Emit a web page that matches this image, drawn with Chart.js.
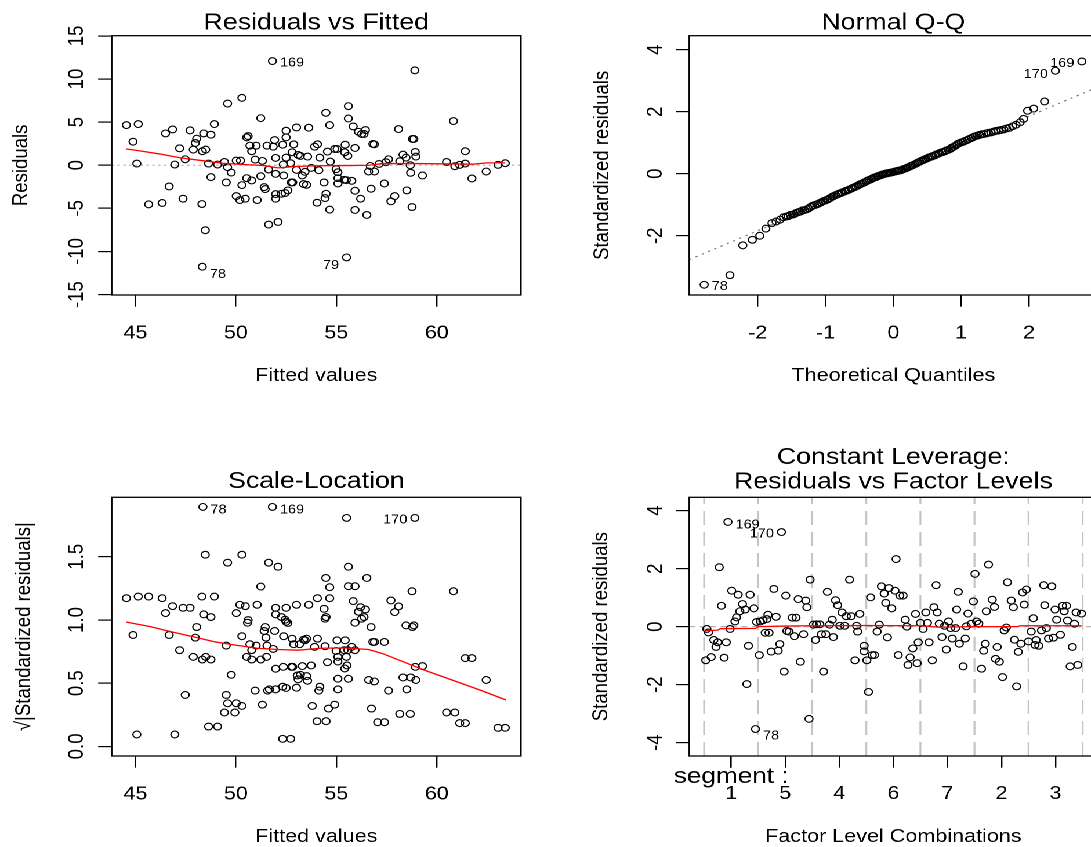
<!DOCTYPE html>
<html>
<head>
<meta charset="utf-8">
<title>lm diagnostics</title>
<script src="https://cdn.jsdelivr.net/npm/chart.js@4.4.1/dist/chart.umd.min.js"></script>
<style>
  html, body { margin:0; padding:0; width:1091px; height:847px; overflow:hidden; background:#ffffff; }
  #stage { position:absolute; left:0; top:0; width:940.5px; height:847px; transform:scaleX(1.16); transform-origin:0 0; }
  #stage canvas { position:absolute; }
</style>
</head>
<body>
<div id="stage">
  <canvas id="c1"></canvas>
  <canvas id="c2"></canvas>
  <canvas id="c3"></canvas>
  <canvas id="c4"></canvas>
</div>
<script>
// ---------------- DATA ----------------
// Panel 1: Residuals vs Fitted (first three points are the labelled ones)
const rvfX = [51.82,48.33,55.51,
  44.55,44.88,45.14,45.07,45.66,46.33,46.5,46.85,46.68,46.96,47.2,47.37,47.48,47.72,47.88,47.98,48.05,48.31,
  48.4,48.33,48.5,48.48,48.64,48.76,48.76,48.93,49.09,49.43,49.52,49.59,49.59,49.77,50.02,50.02,50.2,50.23,
  50.3,50.3,50.47,50.54,50.54,50.61,50.7,50.79,50.79,51.01,50.96,51.06,51.24,51.24,51.32,51.41,51.46,51.55,
  51.63,51.63,51.86,51.93,51.98,51.98,51.98,51.98,52.1,52.27,52.33,52.36,52.38,52.45,52.5,52.5,52.5,52.59,
  52.73,52.76,52.83,52.88,52.8,53.02,53.02,53.1,53.21,53.31,53.37,53.44,53.52,53.57,53.63,53.75,53.92,54.04,
  54.06,54.13,54.18,54.39,54.44,54.49,54.48,54.56,54.67,54.67,54.7,54.92,54.99,55.04,55.08,55.08,55.08,55.39,
  55.44,55.42,55.5,55.57,55.6,55.6,55.77,55.84,55.93,55.93,55.93,56.1,56.21,56.26,56.38,56.45,56.52,56.61,
  56.69,56.73,56.82,56.89,56.9,57.13,57.39,57.47,57.6,57.72,57.91,58.1,58.16,58.32,58.47,58.51,58.68,58.7,
  58.77,58.79,58.86,58.91,58.93,58.96,59.29,60.49,60.83,60.9,61.14,61.42,61.42,61.75,62.46,63.05,63.41];
const rvfY = [12.08,-11.77,-10.69,
  4.65,2.73,4.77,0.19,-4.54,-4.38,3.69,4.15,-2.46,0.08,1.96,-3.88,0.69,4.04,1.81,2.58,3.08,-4.5,
  3.69,1.62,1.81,-7.54,0.19,3.54,-1.38,4.77,0.08,0.38,-2.0,7.15,-0.23,-0.85,0.54,-3.58,-4.04,0.54,
  7.81,-2.31,-3.88,-1.5,3.23,3.38,2.27,1.62,-1.77,2.27,0.65,-4.04,5.46,-1.27,0.5,-2.54,-2.77,2.27,
  -6.88,-0.5,2.15,2.92,0.85,-3.35,-3.88,-1.0,-6.58,-3.31,2.38,0.08,-1.19,-3.23,4.0,3.23,0.88,-2.92,
  0.23,-2.0,-2.0,2.42,1.5,4.38,-0.54,1.19,1.08,-1.19,-2.19,-0.77,-2.27,1.0,4.35,-0.31,2.15,-4.35,
  2.42,-0.58,0.88,-2.0,-3.81,-3.31,6.08,1.58,-5.15,4.65,0.42,1.88,-0.46,1.88,-0.81,-1.5,-2.12,-1.69,
  2.38,1.5,-1.73,1.08,6.85,5.42,-1.81,4.5,2.0,-2.96,-5.19,3.88,-3.88,3.62,3.62,4.08,-5.77,-0.73,
  -0.08,-2.73,2.46,2.42,-0.73,0.15,-2.12,0.35,0.69,-4.19,-3.58,4.19,0.46,1.23,0.88,-2.92,0.0,-0.88,
  -4.85,3.04,3.04,11.0,1.54,1.0,-1.19,0.38,5.12,-0.12,0.04,1.62,0.19,-1.54,-0.73,0.04,0.23];
const rvfIds = ['169','78','79'];
const rvfLoX = [44.55,45.14,46.2,47.25,48.3,49.33,50.37,51.41,52.1,52.97,53.83,54.87,55.57,56.61,57.3,59.03,60.76,61.8,62.5,63.41];
const rvfLoY = [1.88,1.69,1.31,0.85,0.54,0.23,0.08,-0.04,-0.31,-0.15,-0.08,-0.04,-0.04,0.0,0.19,0.19,0.15,0.12,0.27,0.27];
const rvfXTicks = [45,50,55,60];
const rvfYTicks = [-15,-10,-5,0,5,10,15];
const rvfXRange = [43.82,64.19];
const rvfYRange = [-15.05,15.02];

// Panel 2: Normal Q-Q (first three are labelled)
const qqX = [-2.79,2.39,2.78,
  -2.41,-2.22,-2.08,-1.97,-1.88,-1.79,-1.73,-1.67,-1.62,
  -1.58,-1.55,-1.52,-1.49,-1.46,-1.43,-1.40,-1.37,-1.34,-1.31,-1.28,-1.25,-1.22,-1.19,-1.16,-1.13,-1.10,-1.07,
  -1.04,-1.01,-0.98,-0.96,-0.93,-0.90,-0.88,-0.85,-0.82,-0.80,-0.77,-0.75,-0.72,-0.70,-0.67,-0.65,-0.62,-0.60,
  -0.57,-0.55,-0.52,-0.50,-0.48,-0.45,-0.43,-0.40,-0.38,-0.36,-0.33,-0.31,-0.29,-0.26,-0.24,-0.22,-0.19,-0.17,
  -0.15,-0.12,-0.10,-0.08,-0.05,-0.03,-0.01,0.02,0.04,0.06,0.08,0.11,0.13,0.15,0.18,0.20,0.22,0.25,0.27,0.29,
  0.32,0.34,0.36,0.39,0.41,0.44,0.46,0.48,0.51,0.53,0.56,0.58,0.61,0.63,0.66,0.68,0.71,0.73,0.76,0.78,0.81,
  0.84,0.86,0.89,0.92,0.94,0.97,1.00,1.03,1.06,1.09,1.12,1.15,1.18,1.21,1.24,1.27,1.30,1.33,1.37,1.40,1.44,
  1.48,1.51,1.55,1.59,1.63,1.67,1.71,1.76,1.81,1.87,1.92,1.98,2.07,2.23];
const qqY = [-3.58,3.32,3.62,
  -3.27,-2.31,-2.13,-2.00,-1.77,-1.59,-1.54,-1.48,-1.40,
  -1.38,-1.37,-1.33,-1.32,-1.30,-1.26,-1.24,-1.22,-1.18,-1.17,-1.15,-1.12,-1.07,-1.03,-1.01,-0.99,-0.96,-0.93,
  -0.89,-0.87,-0.84,-0.82,-0.78,-0.74,-0.72,-0.69,-0.66,-0.64,-0.62,-0.60,-0.57,-0.55,-0.53,-0.51,-0.48,-0.46,
  -0.43,-0.41,-0.38,-0.35,-0.33,-0.30,-0.28,-0.25,-0.22,-0.20,-0.18,-0.15,-0.13,-0.11,-0.09,-0.07,-0.05,-0.03,
  -0.02,0.00,0.01,0.02,0.03,0.04,0.05,0.07,0.08,0.09,0.10,0.11,0.13,0.15,0.17,0.19,0.21,0.24,0.26,0.28,
  0.31,0.33,0.36,0.39,0.41,0.44,0.46,0.48,0.51,0.53,0.55,0.57,0.59,0.62,0.64,0.66,0.69,0.70,0.72,0.75,0.77,
  0.80,0.84,0.87,0.91,0.95,0.98,1.01,1.03,1.06,1.09,1.12,1.15,1.18,1.21,1.23,1.25,1.27,1.28,1.30,1.32,1.33,
  1.36,1.38,1.39,1.41,1.43,1.46,1.48,1.53,1.58,1.66,1.77,2.03,2.10,2.33];
const qqIds = ['78','170','169'];
const qqLineX = [-3.01,3.01];
const qqLineY = [-2.77,2.79];
const qqXTicks = [-2,-1,0,1,2];
const qqYTicks = [-2,0,2,4];
const qqXRange = [-3.01,3.01];
const qqYRange = [-3.91,4.45];

// Panel 3: Scale-Location (first three are labelled)
const slX = [48.36,51.82,58.91,
  44.55,44.88,45.14,45.07,45.66,46.33,46.5,46.85,46.68,46.96,47.2,47.37,47.48,47.72,47.88,47.98,48.05,48.31,
  48.4,48.33,48.5,48.48,48.64,48.76,48.76,48.93,49.09,49.43,49.52,49.59,49.59,49.52,49.77,50.02,50.02,49.95,
  50.2,50.3,50.3,50.3,50.47,50.54,50.58,50.61,50.7,50.79,50.79,51.01,50.96,51.06,51.24,51.24,51.32,51.41,
  51.46,51.5,51.53,51.55,51.63,51.58,51.67,51.86,51.93,51.98,51.98,51.98,51.98,52.1,52.27,52.33,52.36,52.33,
  52.38,52.45,52.5,52.5,52.5,52.59,52.73,52.76,52.83,52.88,52.8,53.02,53.02,53.06,53.1,53.21,53.17,53.31,
  53.37,53.44,53.52,53.52,53.57,53.63,53.75,53.8,53.92,54.04,54.06,54.06,54.13,54.18,54.39,54.44,54.49,54.48,
  54.44,54.56,54.49,54.67,54.67,54.61,54.92,54.99,55.04,55.08,55.08,55.08,55.08,55.39,55.44,55.42,55.51,55.5,
  55.57,55.6,55.6,55.6,55.53,55.77,55.84,55.93,55.93,55.93,56.1,56.21,56.26,56.38,56.45,56.52,56.61,56.73,
  56.75,56.82,56.89,56.9,57.06,57.39,57.4,57.6,57.72,57.91,58.1,58.16,58.32,58.47,58.51,58.68,58.7,58.77,
  58.79,58.86,58.93,58.96,59.29,60.49,60.83,60.9,61.14,61.42,61.42,61.75,62.46,63.05,63.41];
const slY = [1.894,1.894,1.807,
  1.172,0.881,1.185,0.094,1.185,1.172,1.054,1.109,0.881,0.094,0.761,1.096,0.407,1.096,0.708,0.86,0.944,1.185,
  1.044,0.687,0.708,1.516,0.157,1.023,0.687,1.185,0.157,0.268,0.797,1.453,0.341,0.407,0.566,1.054,0.341,0.268,
  1.12,1.516,0.32,0.871,1.109,0.708,0.978,0.999,0.808,0.761,0.687,0.797,0.441,1.12,1.264,0.687,0.33,0.913,
  0.944,0.86,0.708,0.797,1.453,0.441,0.451,0.771,0.913,1.044,0.614,0.451,1.096,1.421,1.023,0.472,0.629,0.06,
  0.871,1.002,1.096,0.986,0.462,0.976,0.06,0.629,0.629,0.808,0.852,1.12,0.464,0.561,0.53,0.566,0.808,0.635,
  0.844,0.839,0.556,0.852,0.519,1.12,0.64,0.32,0.787,0.199,0.852,1.172,0.441,0.472,1.088,1.01,1.023,1.332,
  0.792,0.666,0.199,1.172,1.259,0.299,0.33,0.755,0.839,0.708,0.671,0.535,0.451,0.761,0.839,0.616,1.807,0.708,
  0.761,1.421,1.267,0.535,0.64,0.787,1.149,1.267,0.761,0.978,1.065,1.101,1.01,1.023,1.083,1.332,0.525,0.944,
  0.299,0.826,0.514,0.826,0.191,0.826,0.191,0.441,1.154,1.062,1.107,0.257,0.545,0.957,0.451,0.257,0.545,1.227,
  0.944,0.957,0.629,0.525,0.635,0.268,1.227,0.268,0.184,0.698,0.184,0.698,0.525,0.147,0.147];
const slIds = ['78','169','170'];
const slLoX = [44.55,45.69,46.91,47.94,48.98,50.02,51.06,52.1,53.14,54.18,55.39,56.61,57.3,58.34,59.38,60.76,62.15,63.45];
const slLoY = [0.983,0.949,0.902,0.865,0.826,0.8,0.776,0.766,0.761,0.776,0.779,0.766,0.734,0.669,0.603,0.525,0.446,0.367];
const slYTicks = [0,0.5,1,1.5];
const slYLabels = ['0.0','0.5','1.0','1.5'];
const slXRange = [43.82,64.19];
const slYRange = [-0.076,1.97];

// Panel 4: Constant Leverage: Residuals vs Factor Levels (first three are labelled)
const flFactor = 'segment';
const flLevels = ['1','5','4','6','7','2','3'];
const flX = [-0.06,0.93,0.45,
  -0.47,-0.45,-0.42,-0.37,-0.32,-0.28,-0.25,-0.22,-0.18,-0.13,-0.09,-0.02,0.01,0.07,0.1,0.13,0.16,0.21,0.26,
  0.29,0.32,0.35,0.42,0.47,0.52,0.54,0.59,0.63,0.66,0.68,0.7,0.74,0.79,0.83,0.87,0.9,0.98,1.01,1.03,1.07,
  1.13,1.17,1.2,1.24,1.28,1.34,1.38,1.4,1.44,1.46,1.52,1.56,1.58,1.64,1.67,1.71,1.75,1.78,1.82,1.87,1.89,
  1.93,1.97,2.01,2.05,2.1,2.13,2.19,2.22,2.29,2.32,2.34,2.38,2.46,2.46,2.51,2.54,2.58,2.61,2.65,2.7,2.74,
  2.78,2.83,2.86,2.89,2.92,2.97,3.03,3.05,3.09,3.12,3.18,3.22,3.25,3.27,3.31,3.36,3.41,3.44,3.46,3.5,3.55,
  3.6,3.63,3.66,3.72,3.75,3.79,3.81,3.85,3.9,3.95,3.98,4.02,4.06,4.09,4.15,4.17,4.2,4.22,4.29,4.33,4.35,
  4.38,4.44,4.48,4.51,4.54,4.58,4.63,4.67,4.7,4.72,4.76,4.83,4.87,4.89,4.92,4.96,5.02,5.05,5.09,5.11,5.18,
  5.22,5.24,5.28,5.31,5.36,5.39,5.42,5.46,5.5,5.55,5.59,5.62,5.64,5.69,5.74,5.78,5.8,5.83,5.87,5.93,5.96,
  5.99,6.02,6.09,6.13,6.16,6.2,6.22,6.27,6.31,6.35,6.38,6.41,6.48];
const flY = [3.61,3.26,-3.53,
  -1.16,-0.08,-0.2,-1.05,-0.46,-0.7,-0.54,2.05,0.72,-1.07,-0.54,-0.08,1.24,0.18,0.32,1.1,0.53,0.78,0.59,
  -1.98,-0.66,1.1,0.63,0.16,-0.98,0.18,0.22,-0.21,0.26,0.41,-0.21,-0.86,1.3,0.34,-0.83,-0.6,-1.55,1.07,-0.15,-0.17,
  0.31,-0.33,0.31,0.95,-1.21,-0.26,0.9,0.67,-3.18,1.62,0.07,-0.46,0.08,0.08,-0.26,-1.55,-0.26,1.2,0.07,0.24,-0.36,
  0.91,0.74,0.03,0.49,0.03,0.36,1.62,0.36,-1.16,0.03,-0.17,0.44,-0.66,-0.85,-1.16,-2.25,1.01,-0.98,-0.98,-0.17,0.07,
  1.39,1.14,0.82,-0.37,1.33,0.63,1.24,2.33,-0.98,1.07,1.07,0.24,0.0,-1.32,-1.06,-0.75,0.44,-1.26,-0.54,0.13,-0.08,
  0.49,0.13,-0.54,-1.16,0.67,1.43,0.49,0.1,-0.36,0.03,-0.79,0.18,-0.05,-0.41,-0.05,0.59,1.2,-0.59,-1.37,-0.41,0.01,
  0.45,0.1,0.87,1.82,0.18,0.1,-1.45,-0.83,-0.59,0.53,2.14,0.93,0.68,-1.11,-0.7,-1.21,-1.74,-0.13,-0.03,1.53,0.9,
  0.67,-0.45,-2.06,-0.87,-0.59,1.18,0.76,1.28,-0.51,-0.17,0.29,-0.63,-0.46,-0.66,-0.13,1.43,0.74,-0.05,-0.41,1.39,-0.38,
  0.59,0.24,-0.28,0.72,0.53,0.72,0.21,-1.37,-0.7,0.1,0.49,-1.32,0.45];
const flIds = ['169','170','78'];
const flLoX = [-0.47,-0.25,-0.2,0.45,0.5,1.0,1.5,2.5,3.5,3.85,4.5,5.3,5.35,6.48];
const flLoY = [-0.14,-0.12,-0.07,-0.06,0.0,0.02,0.03,0.04,0.03,-0.02,0.0,0.0,0.03,0.03];
const flYTicks = [-4,-2,0,2,4];
const flXRange = [-0.775,6.775];
const flYRange = [-4.46,4.46];

// ---------------- RENDERING ----------------
const FONT = '"Liberation Sans", Arial, Helvetica, sans-serif';
const TICK = 11.7;
const TICK_FS = 18.6, AXT_FS = 18.6, TITLE_FS = 23, ID_FS = 12.5;
Chart.defaults.font.family = FONT;
Chart.defaults.color = '#000';

const mctx = document.createElement('canvas').getContext('2d');
function widestLabel(labels, size) {
  mctx.font = size + 'px ' + FONT;
  let w = 0;
  labels.forEach(l => { w = Math.max(w, mctx.measureText(l).width); });
  return w;
}
function pts(xs, ys) {
  const n = Math.min(xs.length, ys.length), out = [];
  for (let i = 0; i < n; i++) out.push({x: xs[i], y: ys[i]});
  return out;
}
const framePlugin = {
  id: 'frame',
  afterDatasetsDraw(chart) {
    const a = chart.chartArea, c = chart.ctx;
    c.save(); c.strokeStyle = '#000'; c.lineWidth = 1.3;
    c.strokeRect(a.left, a.top, a.right - a.left, a.bottom - a.top);
    c.restore();
  }
};
function idPlugin(texts, sides, dys) {
  return {
    id: 'ids',
    afterDatasetsDraw(chart) {
      const meta = chart.getDatasetMeta(0), c = chart.ctx;
      c.save(); c.font = ID_FS + 'px ' + FONT; c.fillStyle = '#000'; c.textBaseline = 'middle';
      texts.forEach((t, k) => {
        const el = meta.data[k];
        if (!el) return;
        const right = sides[k] === 'r';
        c.textAlign = right ? 'left' : 'right';
        c.fillText(t, el.x + (right ? 6.5 : -6.5), el.y + dys[k]);
      });
      c.restore();
    }
  };
}
function pointSet(xs, ys) {
  return { type: 'scatter', data: pts(xs, ys), pointStyle: 'circle', pointRadius: 3.4, pointHoverRadius: 3.4,
           pointBorderWidth: 1.1, pointBorderColor: '#000', pointBackgroundColor: 'rgba(0,0,0,0)', order: 2 };
}
function lineSet(xs, ys, color, width, dash, order) {
  return { type: 'line', data: pts(xs, ys), borderColor: color, borderWidth: width, borderDash: dash,
           pointRadius: 0, pointHoverRadius: 0, fill: false, tension: 0, order: order };
}

function makePanel(p) {
  const canvas = document.getElementById(p.id);
  canvas.width = p.w; canvas.height = p.h;
  canvas.style.left = p.left + 'px'; canvas.style.top = p.top + 'px';
  const a = p.area;
  const tickLH = TICK_FS * 1.2, axLH = AXT_FS * 1.2;
  const titleLines = Array.isArray(p.title) ? p.title.length : 1;
  const titleLH = TITLE_FS * p.titleLineHeight;
  const titlePadBottom = Math.max(0, a.t - p.titlePadTop - titleLines * titleLH);
  const yPad = p.y.labelDist - TICK - widestLabel(p.y.labels, TICK_FS) / 2;
  const xAxisH = p.h - a.b;
  const xTitlePadBottom = p.h - a.b - 80.7 - axLH / 2;
  const xPad = (p.x.padding !== undefined) ? p.x.padding : (38.3 - TICK - tickLH / 2);
  const gridOpts = { drawOnChartArea: false, drawTicks: true, tickLength: TICK, tickWidth: 1.2, tickColor: '#000', color: '#000', lineWidth: 1.2 };

  return new Chart(canvas, {
    type: 'scatter',
    data: { datasets: p.datasets },
    options: {
      responsive: false, animation: false, devicePixelRatio: 2, events: [],
      layout: { padding: { left: 0, right: p.w - a.r, top: 0, bottom: 0 } },
      plugins: {
        legend: { display: false }, tooltip: { enabled: false },
        title: { display: true, text: p.title, fullSize: false, color: '#000',
                 font: { size: TITLE_FS, weight: 'normal', lineHeight: p.titleLineHeight },
                 padding: { top: p.titlePadTop, bottom: titlePadBottom } }
      },
      scales: {
        x: {
          type: 'linear', position: 'bottom', min: p.x.range[0], max: p.x.range[1],
          afterBuildTicks: s => { s.ticks = p.x.ticks.map(v => ({ value: v })); },
          afterFit: s => { s.height = xAxisH; },
          ticks: { autoSkip: false, minRotation: 0, maxRotation: 0, padding: xPad, color: '#000',
                   font: p.x.font || { size: TICK_FS, lineHeight: 1.2 },
                   callback: (v, i) => p.x.labels[i] },
          grid: gridOpts, border: { display: false },
          title: { display: true, text: p.x.title, color: '#000', font: { size: AXT_FS, lineHeight: 1.2 },
                   padding: { top: 0, bottom: xTitlePadBottom } }
        },
        y: {
          type: 'linear', position: 'left', min: p.y.range[0], max: p.y.range[1],
          afterBuildTicks: s => { s.ticks = p.y.ticks.map(v => ({ value: v })); },
          afterFit: s => { s.width = a.l; },
          ticks: { autoSkip: false, minRotation: 90, maxRotation: 90, crossAlign: 'center', padding: yPad, color: '#000',
                   font: { size: TICK_FS, lineHeight: 1.2 },
                   callback: (v, i) => p.y.labels[i] },
          grid: gridOpts, border: { display: false },
          title: { display: true, text: p.y.title, color: '#000', font: { size: AXT_FS, lineHeight: 1.2 },
                   padding: { top: p.y.titleX - axLH / 2, bottom: 0 } }
        }
      }
    },
    plugins: [framePlugin, idPlugin(p.ids.text, p.ids.side, p.ids.dy)]
  });
}

// Panel 1
makePanel({
  id: 'c1', left: 0, top: 0, w: 470, h: 423,
  area: { l: 96.3, r: 449.1, t: 35.7, b: 295 },
  title: 'Residuals vs Fitted', titlePadTop: 11.85, titleLineHeight: 1,
  x: { range: rvfXRange, ticks: rvfXTicks, labels: rvfXTicks.map(String), title: 'Fitted values' },
  y: { range: rvfYRange, ticks: rvfYTicks, labels: rvfYTicks.map(String), title: 'Residuals', labelDist: 29.7, titleX: 18.6 },
  ids: { text: rvfIds, side: ['r','r','l'], dy: [2,8,8] },
  datasets: [
    pointSet(rvfX, rvfY),
    lineSet(rvfLoX, rvfLoY, '#ff0000', 1.3, [], 1),
    lineSet(rvfXRange, [0, 0], '#b4b4b4', 1.2, [2, 3], 3)
  ]
});

// Panel 2
makePanel({
  id: 'c2', left: 470, top: 0, w: 490, h: 423,
  area: { l: 124.2, r: 476.1, t: 35.7, b: 295 },
  title: 'Normal Q-Q', titlePadTop: 11.85, titleLineHeight: 1,
  x: { range: qqXRange, ticks: qqXTicks, labels: qqXTicks.map(String), title: 'Theoretical Quantiles' },
  y: { range: qqYRange, ticks: qqYTicks, labels: qqYTicks.map(String), title: 'Standardized residuals', labelDist: 28.9, titleX: 49.3 },
  ids: { text: qqIds, side: ['r','l','l'], dy: [2,4,2] },
  datasets: [
    pointSet(qqX, qqY),
    lineSet(qqLineX, qqLineY, '#808080', 1.2, [2, 4], 3)
  ]
});

// Panel 3
makePanel({
  id: 'c3', left: 0, top: 423, w: 470, h: 440,
  area: { l: 96.3, r: 449.1, t: 74.3, b: 333 },
  title: 'Scale-Location', titlePadTop: 47.2, titleLineHeight: 1,
  x: { range: slXRange, ticks: rvfXTicks, labels: rvfXTicks.map(String), title: 'Fitted values' },
  y: { range: slYRange, ticks: slYTicks, labels: slYLabels, title: '\u221A|Standardized residuals|', labelDist: 29.7, titleX: 21.0 },
  ids: { text: slIds, side: ['r','r','l'], dy: [3,3,2] },
  datasets: [
    pointSet(slX, slY),
    lineSet(slLoX, slLoY, '#ff0000', 1.3, [], 1)
  ]
});

// Panel 4
const flTickVals = [0].concat(flLevels.map((_, i) => i));
const flTickLabels = [flFactor + ' :'].concat(flLevels.map(l => ['', l]));
const flBounds = flLevels.map((_, i) => i - 0.5).concat([flLevels.length - 0.5]);
const flDatasets = [
  pointSet(flX, flY),
  lineSet(flLoX, flLoY, '#ff0000', 1.3, [], 1),
  lineSet(flXRange, [0, 0], '#b4b4b4', 1.2, [5, 4], 3)
].concat(flBounds.map(b => lineSet([b, b], flYRange, '#c4c4c4', 1.6, [14, 7], 4)));
makePanel({
  id: 'c4', left: 470, top: 423, w: 490, h: 440,
  area: { l: 124.2, r: 476.1, t: 74.3, b: 333 },
  title: ['Constant Leverage:', 'Residuals vs Factor Levels'], titlePadTop: 22.3, titleLineHeight: 24.6 / 23,
  x: { range: flXRange, ticks: flTickVals, labels: flTickLabels, title: 'Factor Level Combinations', padding: 0,
       font: c => (c.index === 0 ? { size: 22.5, lineHeight: 18 / 22.5 } : { size: TICK_FS, lineHeight: 17.53 / TICK_FS }) },
  y: { range: flYRange, ticks: flYTicks, labels: flYTicks.map(String), title: 'Standardized residuals', labelDist: 28.7, titleX: 48.4 },
  ids: { text: flIds, side: ['r','l','r'], dy: [3,2,7] },
  datasets: flDatasets
});
</script>
</body>
</html>
